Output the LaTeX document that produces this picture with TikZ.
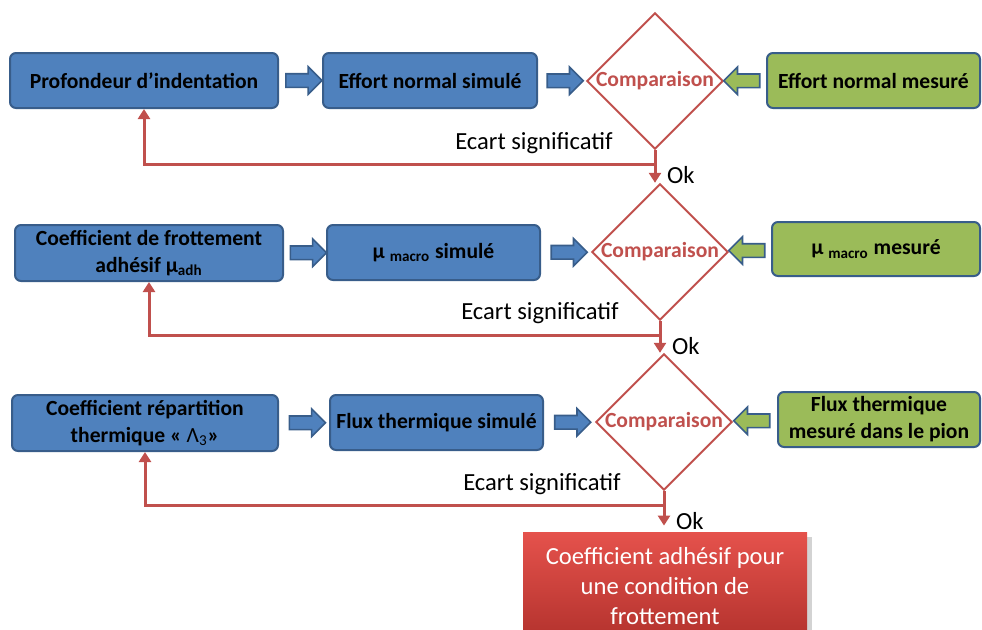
\documentclass[tikz,border=0pt]{standalone}
\usepackage{fontspec}
\setmainfont{Carlito}
\usepackage{tikz}
\usetikzlibrary{arrows.meta, positioning, calc, shapes.geometric, shapes.arrows, shadows}
\definecolor{bleu}{HTML}{4F81BD}
\definecolor{bleufonce}{HTML}{385D8A}
\definecolor{vert}{HTML}{9BBB59}
\definecolor{rouge}{HTML}{C0504D}
\definecolor{rougeclair}{HTML}{E5524C}
\definecolor{rougefonce}{HTML}{B3322D}

\begin{document}
\begin{tikzpicture}[x=0.5pt, y=-0.5pt,
  bloc/.style={draw=bleufonce, fill=bleu, line width=1pt, rounded corners=3pt, minimum height=27.5pt, inner sep=1pt, align=center, font=\fontsize{10.8}{13.5}\selectfont\bfseries},
  blocvert/.style={bloc, fill=vert},
  losange/.style={diamond, draw=rouge, line width=1pt, fill=white, inner sep=0pt, minimum size=67.5pt, text=rouge, font=\fontsize{10.8}{13}\selectfont\bfseries},
  flechebleue/.style={single arrow, draw=bleufonce, fill=bleu, line width=0.8pt, minimum height=18pt, single arrow head extend=3.5pt, inner sep=3pt},
  flecheverte/.style={flechebleue, fill=vert, shape border rotate=180},
  retour/.style={draw=rouge, line width=1.5pt, -{Triangle[width=6pt,length=5pt]}},
  ecart/.style={font=\fontsize{12.3}{14}\selectfont},
  ok/.style={right=2pt, pos=0.6, font=\fontsize{12.3}{14}\selectfont},
  final/.style={rectangle, top color=rougeclair, bottom color=rougefonce, minimum width=142pt, minimum height=54pt, text=white, align=center, font=\fontsize{12.3}{15}\selectfont, drop shadow={opacity=0.35}}
]
  \useasboundingbox (0,0) rectangle (982,629);

  % ligne 1 : effort normal
  \node[bloc, minimum width=134pt] (pro) at (144,80.5) {Profondeur d’indentation};
  \node[bloc, minimum width=107pt] (eff) at (430,80.5) {Effort normal simulé};
  \node[losange] (cmp1) at (655,81) {Comparaison};
  \node[blocvert, minimum width=106.5pt] (mes1) at (873.5,80.5) {Effort normal mesuré};
  \path (pro.east) -- node[flechebleue] (fb11) {} (eff.west);
  \path (eff.east) -- node[flechebleue] (fb12) {} (cmp1.west);
  \path (cmp1.east) -- node[flecheverte] (fv1) {} (mes1.west);

  % ligne 2 : coefficient de frottement
  \node[bloc, minimum width=134pt, minimum height=28pt] (coef) at (149,253) {Coefficient de frottement\\ adhésif μ\textsubscript{adh}};
  \node[bloc, minimum width=106.5pt] (musim) at (433.5,252.5) {μ \textsubscript{macro} simulé};
  \node[losange] (cmp2) at (660,252) {Comparaison};
  \node[blocvert, minimum width=104pt, minimum height=27pt] (mes2) at (876,249) {μ \textsubscript{macro} mesuré};
  \path (coef.east) -- node[flechebleue] (fb21) {} (musim.west);
  \path (musim.east) -- node[flechebleue] (fb22) {} (cmp2.west);
  \path (cmp2.east) -- node[flecheverte] (fv2) {} (mes2.west);

  % ligne 3 : repartition thermique
  \node[bloc, minimum width=133pt, minimum height=28pt] (rep) at (145,423) {Coefficient répartition\\ thermique « {\mdseries Λ\textsubscript{3}}»};
  \node[bloc, minimum width=106.5pt] (flux) at (436.5,422.5) {Flux thermique simulé};
  \node[losange] (cmp3) at (664,422) {Comparaison};
  \node[blocvert, minimum width=101pt] (mes3) at (879,419.5) {Flux thermique\\ mesuré dans le pion};
  \path (rep.east) -- node[flechebleue] (fb31) {} (flux.west);
  \path (flux.east) -- node[flechebleue] (fb32) {} (cmp3.west);
  \path (cmp3.east) -- node[flecheverte] (fv3) {} (mes3.west);

  % resultat
  \node[final] (fin) at (665,586) {Coefficient adhésif pour\\ une condition de\\ frottement};

  % boucles de retour
  \coordinate (j1) at ($(cmp1.south)+(0,14)$);
  \coordinate (j2) at ($(cmp2.south)+(0,14)$);
  \coordinate (j3) at ($(cmp3.south)+(0,14)$);
  \draw[retour] (cmp1.south) -- (j1) -| (pro.south);
  \draw[retour] (cmp2.south) -- (j2) -| (coef.south);
  \draw[retour] (cmp3.south) -- (j3) -| (rep.south);
  \node[ecart] (e1) at ($(j1)+(-121,-21)$) {Ecart significatif};
  \node[ecart] (e2) at ($(j2)+(-120,-22)$) {Ecart significatif};
  \node[ecart] (e3) at ($(j3)+(-122,-21)$) {Ecart significatif};
  \draw[retour] (j1) -- node[ok] (ok1) {Ok} (j1 |- cmp2.north);
  \draw[retour] (j2) -- node[ok] (ok2) {Ok} (j2 |- cmp3.north);
  \draw[retour, shorten >=3pt] (j3) -- node[ok] (ok3) {Ok} (j3 |- fin.north);
\end{tikzpicture}
\end{document}
